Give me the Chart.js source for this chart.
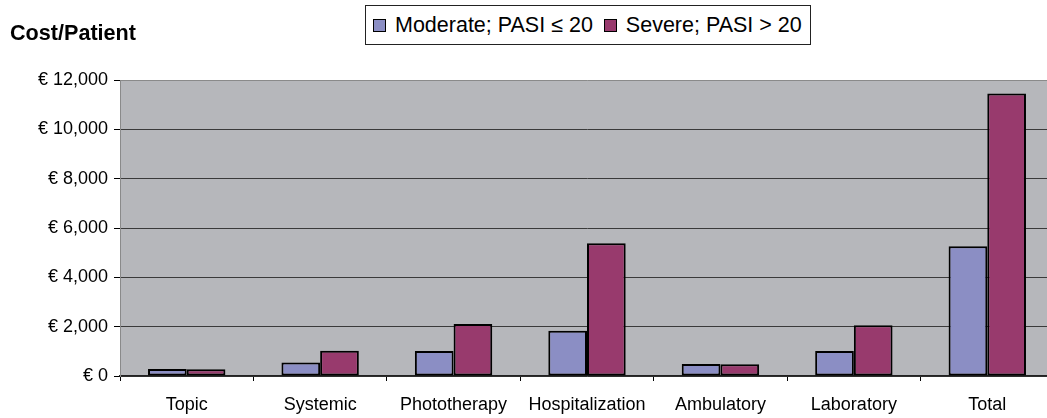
<!DOCTYPE html>
<html>
<head>
<meta charset="utf-8">
<script src="https://cdn.jsdelivr.net/npm/chart.js@4"></script>
<style>
  html, body { margin: 0; padding: 0; background: #fff; overflow: hidden; }
  #wrap { position: relative; width: 1047px; height: 418px; overflow: hidden; font-family: Arial, "Liberation Sans", sans-serif; }
  #chart { position: absolute; left: 0; top: 0; }
  #title { position: absolute; left: 10px; top: 20px; font-size: 21.6px; font-weight: bold; color: #000; }
  #legend { position: absolute; left: 365px; top: 5px; height: 38px; border: 1px solid #222; background: #fff;
            display: flex; align-items: center; padding: 0 8px 0 7px; font-size: 21.5px; color: #000; white-space: nowrap; }
  #legend .item { display: flex; align-items: center; margin-right: 11px; }
  #legend .item:last-child { margin-right: 0; }
  #legend .sw { width: 11px; height: 11px; border: 1px solid #000; margin-right: 9px; }
</style>
</head>
<body>
<div id="wrap">
  <canvas id="chart" width="1060" height="418"></canvas>
  <div id="title">Cost/Patient</div>
  <div id="legend"></div>
</div>
<script>
const categories = ['Topic', 'Systemic', 'Phototherapy', 'Hospitalization', 'Ambulatory', 'Laboratory', 'Total'];
const moderate = [280, 550, 1010, 1830, 490, 1010, 5260];
const severe = [270, 1020, 2110, 5380, 480, 2060, 11450];
const seriesNames = ['Moderate; PASI \u2264 20', 'Severe; PASI > 20'];
const seriesColors = ['#8b8ec4', '#983a6d'];

// gray plot background
const plotBg = {
  id: 'plotBg',
  beforeDraw(chart) {
    const a = chart.chartArea, ctx = chart.ctx;
    ctx.save();
    ctx.fillStyle = '#b6b7bb';
    ctx.fillRect(a.left, a.top, a.right - a.left, a.bottom - a.top);
    ctx.restore();
  }
};

const chart = new Chart(document.getElementById('chart').getContext('2d'), {
  type: 'bar',
  data: {
    labels: categories,
    datasets: [
      { label: seriesNames[0], data: moderate, backgroundColor: seriesColors[0] },
      { label: seriesNames[1], data: severe, backgroundColor: seriesColors[1] }
    ]
  },
  options: {
    responsive: false,
    animation: false,
    layout: { padding: { top: 80, right: 6, left: 0, bottom: 0 } },
    datasets: {
      bar: { categoryPercentage: 0.58, barPercentage: 1, borderColor: '#000', borderWidth: 2, borderSkipped: false }
    },
    plugins: { legend: { display: false }, tooltip: { enabled: false } },
    scales: {
      x: {
        afterFit(s) { s.height = 42; },
        grid: { drawOnChartArea: false, tickLength: 5, color: '#000', tickColor: '#000' },
        border: { color: '#222', width: 1.5 },
        ticks: { color: '#000', padding: 13, font: { family: 'Arial, "Liberation Sans"', size: 18 }, maxRotation: 0 }
      },
      y: {
        min: 0, max: 12000,
        afterFit(s) { s.width = 120; },
        grid: {
          tickLength: 6,
          color: ctx => ctx.tick && ctx.tick.value === 12000 ? '#8a8a8a' : '#3a3a3a',
          tickColor: '#000'
        },
        border: { color: '#8a8a8a' },
        ticks: {
          stepSize: 2000, color: '#000', padding: 6,
          font: { family: 'Arial, "Liberation Sans"', size: 18 },
          callback: v => '\u20ac ' + v.toLocaleString('en-US')
        }
      }
    }
  },
  plugins: [plotBg]
});

// legend built from the chart's datasets
const legend = document.getElementById('legend');
chart.data.datasets.forEach(ds => {
  const item = document.createElement('div');
  item.className = 'item';
  item.innerHTML = `<span class="sw" style="background:${ds.backgroundColor}"></span><span>${ds.label}</span>`;
  legend.appendChild(item);
});
</script>
</body>
</html>
